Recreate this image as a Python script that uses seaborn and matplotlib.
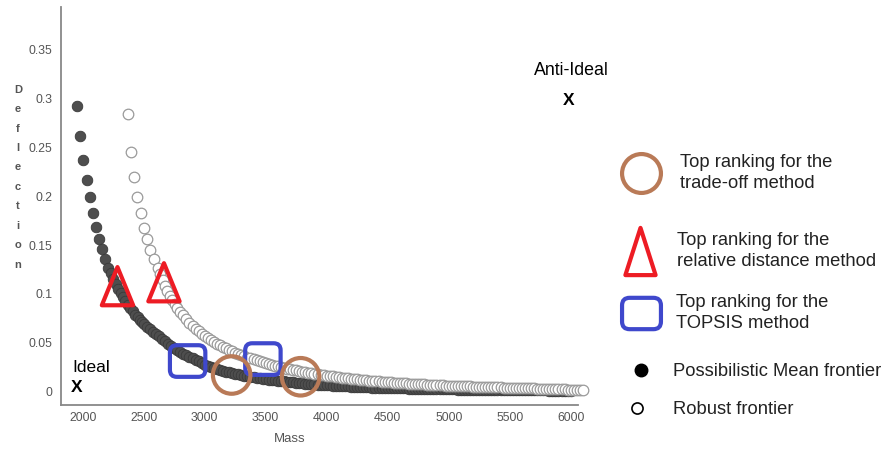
import numpy as np
import matplotlib
matplotlib.use('Agg')
import matplotlib.pyplot as plt
import seaborn as sns
from matplotlib.path import Path
from matplotlib.lines import Line2D
from matplotlib.patches import FancyBboxPatch

# Possibilistic Mean frontier (filled dark circles)
pm_mass = [1951, 1978, 2005, 2033, 2057, 2084, 2109, 2134, 2160, 2185, 2210,
           2230, 2250, 2270, 2290, 2310, 2330, 2350, 2370, 2390, 2410, 2430, 2450, 2470, 2490,
           2500, 2525, 2550, 2575, 2600, 2625, 2650, 2675, 2700, 2725,
           2750, 2775, 2800, 2825, 2850, 2875, 2900, 2925, 2950, 2975,
           3000, 3025, 3050, 3075, 3100, 3125, 3150, 3175, 3200, 3225, 3250, 3275,
           3300, 3325, 3350, 3375, 3400, 3425, 3450, 3475, 3500, 3525, 3550, 3575,
           3600, 3625, 3650, 3675, 3700, 3725, 3750, 3775, 3800, 3825, 3850, 3875,
           3900, 3925, 3950, 3975, 4000, 4025, 4050, 4075, 4100, 4125, 4150, 4175,
           4200, 4225, 4250, 4275, 4300, 4325, 4350, 4375, 4400, 4425, 4450, 4475,
           4500, 4525, 4550, 4575, 4600, 4625, 4650, 4675, 4700, 4725, 4750, 4775,
           4800, 4825, 4850, 4875, 4900, 4925, 4950, 4975, 5000, 5025, 5050, 5075,
           5100, 5125, 5150, 5175, 5200, 5225, 5250, 5275, 5300, 5325, 5350, 5375,
           5400, 5425, 5450, 5475, 5500, 5525, 5550, 5575, 5600, 5625, 5650, 5675,
           5700, 5725, 5750, 5775, 5800, 5825, 5850, 5875, 5900, 5925, 5950, 5975,
           6000]
pm_defl = [0.292, 0.262, 0.237, 0.217, 0.199, 0.183, 0.169, 0.156, 0.146, 0.136, 0.127,
           0.121, 0.115, 0.110, 0.105, 0.101, 0.097, 0.093, 0.089, 0.086, 0.0825, 0.079, 0.076, 0.0735, 0.071,
           0.0695, 0.0665, 0.064, 0.0615, 0.059, 0.0565, 0.054, 0.0515, 0.049, 0.047,
           0.045, 0.0425, 0.0405, 0.039, 0.0373, 0.0357, 0.034, 0.0325, 0.031, 0.0289,
           0.0270, 0.0260, 0.0250, 0.0240, 0.0231, 0.0222, 0.0214, 0.0206, 0.0198, 0.0191, 0.0184, 0.0177,
           0.0171, 0.0165, 0.0159, 0.0153, 0.0148, 0.0143, 0.0138, 0.0133, 0.0128, 0.0124, 0.0120, 0.0116,
           0.0112, 0.0108, 0.0105, 0.0101, 0.0098, 0.0095, 0.0092, 0.0089, 0.0086, 0.0083, 0.0081, 0.0078,
           0.0076, 0.0073, 0.0071, 0.0069, 0.0067, 0.0065, 0.0063, 0.0061, 0.0059, 0.0057, 0.0056, 0.0054,
           0.0053, 0.0051, 0.0050, 0.0048, 0.0047, 0.0046, 0.0045, 0.0043, 0.0042, 0.0041, 0.0040, 0.0039,
           0.0038, 0.0037, 0.0036, 0.0035, 0.0034, 0.0033, 0.0033, 0.0032, 0.0031, 0.0030, 0.0030, 0.0029,
           0.0028, 0.0028, 0.0027, 0.0026, 0.0026, 0.0025, 0.0025, 0.0024, 0.0024, 0.0023, 0.0023, 0.0022,
           0.0022, 0.0021, 0.0021, 0.0020, 0.0020, 0.0019, 0.0019, 0.0019, 0.0018, 0.0018, 0.0018, 0.0017,
           0.0017, 0.0017, 0.0016, 0.0016, 0.0016, 0.0015, 0.0015, 0.0015, 0.0015, 0.0014, 0.0014, 0.0014,
           0.0014, 0.0013, 0.0013, 0.0013, 0.0013, 0.0012, 0.0012, 0.0012, 0.0012, 0.0011, 0.0011, 0.0011,
           0.0011]

# Robust frontier (open circles)
rb_mass = [2371, 2398, 2423, 2445, 2475, 2500, 2527, 2555, 2585, 2615,
           2635, 2655, 2675, 2695, 2715, 2735, 2755, 2775,
           2800, 2825, 2850, 2875, 2900, 2925, 2950, 2975,
           3000, 3025, 3050, 3075, 3100, 3125, 3150, 3175, 3200, 3225, 3250, 3275,
           3300, 3325, 3350, 3375, 3400, 3425, 3450, 3475, 3500, 3525, 3550, 3575,
           3600, 3625, 3650, 3675, 3700, 3725, 3750, 3775, 3800, 3825, 3850, 3875,
           3900, 3925, 3950, 3975, 4000, 4025, 4050, 4075, 4100, 4125, 4150, 4175,
           4200, 4225, 4250, 4275, 4300, 4325, 4350, 4375, 4400, 4425, 4450, 4475,
           4500, 4525, 4550, 4575, 4600, 4625, 4650, 4675, 4700, 4725, 4750, 4775,
           4800, 4825, 4850, 4875, 4900, 4925, 4950, 4975, 5000, 5025, 5050, 5075,
           5100, 5125, 5150, 5175, 5200, 5225, 5250, 5275, 5300, 5325, 5350, 5375,
           5400, 5425, 5450, 5475, 5500, 5525, 5550, 5575, 5600, 5625, 5650, 5675,
           5700, 5725, 5750, 5775, 5800, 5825, 5850, 5875, 5900, 5925, 5950, 5975,
           6000, 6025, 6050, 6075, 6100]
rb_defl = [0.284, 0.245, 0.2195, 0.199, 0.183, 0.168, 0.156, 0.145, 0.136, 0.127,
           0.1205, 0.114, 0.108, 0.103, 0.098, 0.094, 0.090, 0.086,
           0.082, 0.078, 0.074, 0.0705, 0.067, 0.0645, 0.062, 0.0595,
           0.0570, 0.0550, 0.0530, 0.0510, 0.0490, 0.0475, 0.0460, 0.0445, 0.0430, 0.0415, 0.0400, 0.0387,
           0.0375, 0.0362, 0.0350, 0.0340, 0.0330, 0.0320, 0.0310, 0.0300, 0.0290, 0.0282, 0.0275, 0.0267,
           0.0260, 0.0252, 0.0245, 0.0237, 0.0230, 0.0224, 0.0218, 0.0212, 0.0206, 0.0200, 0.0195, 0.0189,
           0.0184, 0.0179, 0.0174, 0.0169, 0.0165, 0.0160, 0.0156, 0.0152, 0.0148, 0.0144, 0.0140, 0.0136,
           0.0133, 0.0129, 0.0126, 0.0123, 0.0120, 0.0117, 0.0114, 0.0111, 0.0108, 0.0105, 0.0103, 0.0100,
           0.0098, 0.0095, 0.0093, 0.0091, 0.0089, 0.0087, 0.0085, 0.0083, 0.0081, 0.0079, 0.0077, 0.0075,
           0.0074, 0.0072, 0.0071, 0.0069, 0.0068, 0.0066, 0.0065, 0.0063, 0.0062, 0.0061, 0.0060, 0.0058,
           0.0057, 0.0056, 0.0055, 0.0054, 0.0053, 0.0052, 0.0051, 0.0050, 0.0049, 0.0048, 0.0047, 0.0046,
           0.0045, 0.0044, 0.0043, 0.0042, 0.0041, 0.0040, 0.0039, 0.0038, 0.0037, 0.0036, 0.0035, 0.0034,
           0.0033, 0.0032, 0.0031, 0.0030, 0.0029, 0.0028, 0.0027, 0.0026, 0.0025, 0.0024, 0.0023, 0.0022,
           0.0021, 0.0020, 0.0019, 0.0018, 0.0017]

assert len(pm_mass) == len(pm_defl)
assert len(rb_mass) == len(rb_defl)

# top ranked solutions per method
tradeoff_mass = [3221, 3786]
tradeoff_defl = [0.0171, 0.0153]
reldist_mass = [2285, 2666]
reldist_defl = [0.108, 0.112]
topsis_mass = [2860, 3477]
topsis_defl = [0.0314, 0.0334]

# ideal / anti-ideal points
ideal_pt = (1953, 0.0048)
anti_ideal_pt = (5984, 0.298)

x_ticks = [2000, 2500, 3000, 3500, 4000, 4500, 5000, 5500, 6000]
y_ticks = [0, 0.05, 0.1, 0.15, 0.2, 0.25, 0.3, 0.35]
y_ticklabels = ['0', '0.05', '0.1', '0.15', '0.2', '0.25', '0.3', '0.35']

BROWN = '#B97A57'
RED = '#ED1C24'
BLUE = '#3F48CC'

sns.set_theme(style='white')
plt.rcParams['font.family'] = ['Liberation Sans', 'DejaVu Sans']

W, H = 887, 449
fig = plt.figure(figsize=(W / 100, H / 100), dpi=100)
ax = fig.add_axes([61 / W, 1 - 405 / H, (578 - 61) / W, (405 - 6.7) / H])

sns.scatterplot(x=pm_mass, y=pm_defl, ax=ax, s=58, color='#4e4e4e',
                edgecolor='#3a3a3a', linewidth=0.6, zorder=2, clip_on=False)
sns.scatterplot(x=rb_mass, y=rb_defl, ax=ax, s=58, facecolor='white',
                edgecolor='#9a9a9a', linewidth=0.9, zorder=3, clip_on=False)

# marker shapes
tri_path = Path([(0, 1), (-0.82, -1), (0.82, -1), (0, 1)],
                [Path.MOVETO, Path.LINETO, Path.LINETO, Path.CLOSEPOLY])
tri_path_key = Path([(0, 1), (-0.64, -1), (0.64, -1), (0, 1)],
                    [Path.MOVETO, Path.LINETO, Path.LINETO, Path.CLOSEPOLY])
rr_path = FancyBboxPatch((-0.56, -0.5), 1.12, 1.0,
                         boxstyle='round,pad=0,rounding_size=0.22').get_path()
rr_path_key = FancyBboxPatch((-0.62, -0.5), 1.24, 1.0,
                             boxstyle='round,pad=0,rounding_size=0.24').get_path()

ax.scatter(reldist_mass, reldist_defl, marker=tri_path, s=27.5 ** 2,
           facecolor='none', edgecolor=RED, linewidth=3.0, zorder=5)
ax.scatter(topsis_mass, topsis_defl, marker=rr_path, s=25.5 ** 2,
           facecolor='none', edgecolor=BLUE, linewidth=3.0, zorder=5)
ax.scatter(tradeoff_mass, tradeoff_defl, marker='o', s=27 ** 2,
           facecolor='none', edgecolor=BROWN, linewidth=3.0, zorder=5)

# ideal / anti-ideal labels
ax.text(ideal_pt[0] - 40, ideal_pt[1] + 0.0195, 'Ideal', fontsize=12.5,
        color='black', ha='left', va='center')
ax.text(ideal_pt[0], ideal_pt[1], 'X', fontsize=12.5, fontweight='bold',
        color='black', ha='center', va='center')
ax.text(anti_ideal_pt[0] + 25, anti_ideal_pt[1] + 0.031, 'Anti-Ideal', fontsize=12.8,
        color='black', ha='center', va='center')
ax.text(anti_ideal_pt[0], anti_ideal_pt[1], 'X', fontsize=12.5, fontweight='bold',
        color='black', ha='center', va='center')

ax.set_xlim(1822, 6060)
ax.set_ylim(-0.0136, 0.394)
ax.set_xticks(x_ticks)
ax.set_yticks(y_ticks)
ax.set_yticklabels(y_ticklabels)
ax.tick_params(axis='x', direction='in', length=5, width=1, color='#444444',
               labelsize=8.8, labelcolor='#555555', pad=5)
ax.tick_params(axis='y', length=0, labelsize=8.8, labelcolor='#555555', pad=6)
for side in ['top', 'right']:
    ax.spines[side].set_visible(False)
for side in ['left', 'bottom']:
    ax.spines[side].set_color('#888888')
    ax.spines[side].set_linewidth(1.3)

ax.set_xlabel('Mass', fontsize=9.5, color='#555555')
ax.xaxis.set_label_coords(0.443, -0.07)
ax.set_ylabel('\n'.join('Deflection'), rotation=0, fontsize=8, fontweight='bold',
              color='#555555', linespacing=2.18, ha='center', va='center')
ax.yaxis.set_label_coords(-0.083, 0.572)

# legend keys on the right
FS = 13.2
fs_px = FS * 100 / 72
keys = [
    (Line2D([], [], ls='none', marker='o', markersize=28, markerfacecolor='none',
            markeredgecolor=BROWN, markeredgewidth=3),
     'Top ranking for the\ntrade-off method', 641, 680, 173),
    (Line2D([], [], ls='none', marker=tri_path_key, markersize=34, markerfacecolor='none',
            markeredgecolor=RED, markeredgewidth=3),
     'Top ranking for the\nrelative distance method', 640, 677, 251),
    (Line2D([], [], ls='none', marker=rr_path_key, markersize=28, markerfacecolor='none',
            markeredgecolor=BLUE, markeredgewidth=3),
     'Top ranking for the\nTOPSIS method', 641, 676, 313),
    (Line2D([], [], ls='none', marker='o', markersize=9, markerfacecolor='black',
            markeredgecolor='black'),
     'Possibilistic Mean frontier', 641, 673, 372),
    (Line2D([], [], ls='none', marker='o', markersize=8, markerfacecolor='white',
            markeredgecolor='black', markeredgewidth=1.2),
     'Robust frontier', 637, 673, 410),
]
hl = 2.0
for handle, label, mx, tx, ty in keys:
    ax_x = mx - hl * fs_px / 2
    pad = (tx - (ax_x + hl * fs_px)) / fs_px
    leg = fig.legend([handle], [label], loc='center left',
                     bbox_to_anchor=(ax_x / W, 1 - ty / H), frameon=False,
                     borderpad=0, borderaxespad=0, handlelength=hl,
                     handletextpad=pad, fontsize=FS, labelcolor='#222222')
    for t in leg.get_texts():
        t.set_linespacing(1.35)

fig.savefig('out.png', dpi=100)
